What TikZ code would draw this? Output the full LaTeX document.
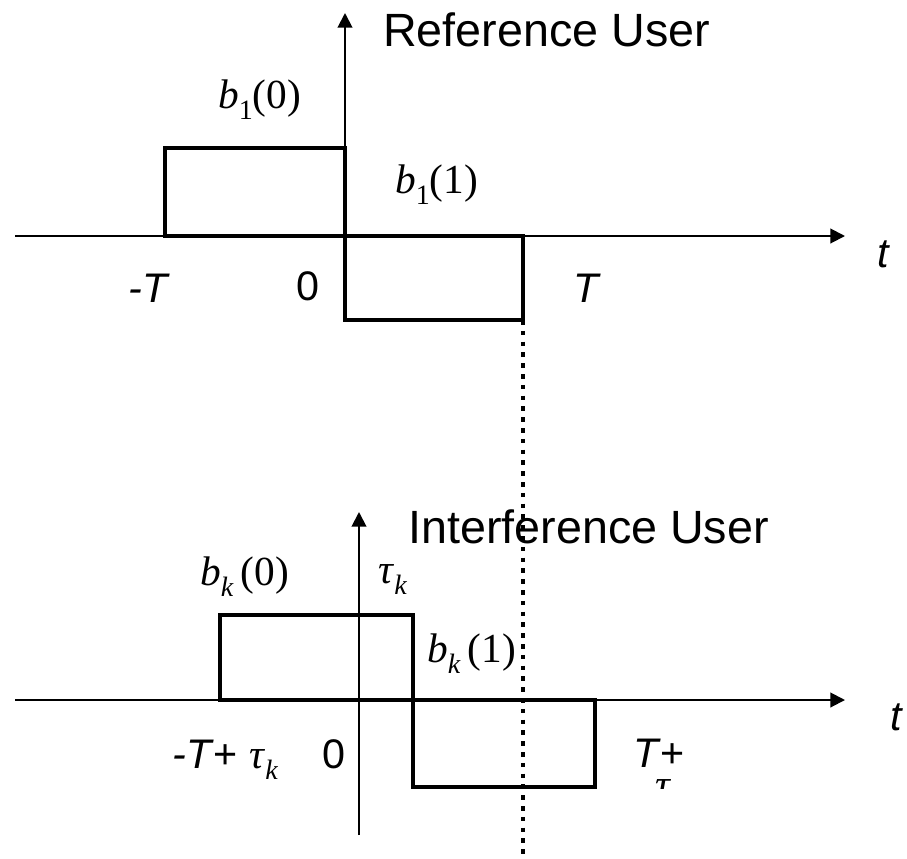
\documentclass[tikz,border=0pt]{standalone}
\usepackage{fontspec}
\setmainfont{Liberation Serif}
\setsansfont{Liberation Sans}
\usetikzlibrary{arrows.meta}

\newcommand\chipsym[2]{\textit{b}\raisebox{-.28em}{\fontsize{21}{21}\selectfont #1}(#2)}
\newcommand\delaysym{\textit{τ}\raisebox{-.28em}{\fontsize{21}{21}\selectfont\textit{k}}}

\begin{document}
\begin{tikzpicture}[x=.75pt,y=-.75pt,
  axis/.style={line width=1.5pt,-{Triangle[length=11pt,width=11pt]}},
  pulse/.style={line width=3pt},
  delayline/.style={line width=3.5pt,dash pattern=on 3.5pt off 4.6pt},
  ttl/.style={anchor=base west,inner sep=0pt,font=\sffamily\fontsize{35}{42}\selectfont},
  tick/.style={anchor=base,inner sep=0pt,font=\sffamily\fontsize{31}{37}\selectfont},
  sym/.style={anchor=base west,inner sep=0pt,font=\fontsize{31}{37}\selectfont}]
\path[use as bounding box] (0,0) rectangle (907,858);
% reference user
\coordinate (ref w) at (15,236);
\coordinate (ref e) at (845,236);
\coordinate (ref o) at (345,236);
\coordinate (ref up) at (345,13);
\draw[axis] (ref w) -- (ref e);
\draw[axis] (ref o) -- (ref up);
\draw[pulse] (165,236) rectangle (345,148);
\draw[pulse] (345,236) rectangle (523,320);
\node[ttl] (ref title) at (383,46) {Reference User};
\node[sym] (ref b0) at (218,108) {\chipsym{1}{0}};
\node[sym] (ref b1) at (395,193) {\chipsym{1}{1}};
\node[tick,anchor=base west] (ref mT) at (128,302) {\textit{-T}};
\node[tick] (ref zero) at (308,300) {0};
\node[tick,anchor=base west] (ref T) at (573,302) {\textit{T}};
\node[tick] (ref t) at (884,267) {\textit{t}};
% interference user
\coordinate (int w) at (15,700);
\coordinate (int e) at (845,700);
\coordinate (int down) at (359,835);
\coordinate (int up) at (359,512);
\draw[axis] (int w) -- (int e);
\draw[axis] (int down) -- (int up);
\draw[pulse] (220,700) rectangle (413,615);
\draw[pulse] (413,700) rectangle (595,787);
\node[ttl] (int title) at (408,543) {Interference User};
\node[sym] (int b0) at (200,585) {\textit{b}\raisebox{-.28em}{\fontsize{21}{21}\selectfont\textit{k}}\,(0)};
\node[sym] (int tau) at (378,583) {\delaysym};
\node[sym] (int b1) at (427,662) {\textit{b}\raisebox{-.28em}{\fontsize{21}{21}\selectfont\textit{k}}\,(1)};
\node[tick,anchor=base west] (int mT) at (172,768) {\textit{-T}+ {\rmfamily\delaysym}};
\node[tick] (int zero) at (334,768) {0};
\node[tick,anchor=base west] (int T) at (633,767) {\textit{T}+};
\begin{scope}
\clip (600,770) rectangle (720,788);
\node[sym] (int Ttau) at (655,798) {\delaysym};
\end{scope}
\node[tick] (int t) at (897,730) {\textit{t}};
% delay marker
\coordinate (lag top) at (523,320);
\coordinate (lag bot) at (523,858);
\draw[delayline] (lag top) -- (lag bot);
\end{tikzpicture}
\end{document}
